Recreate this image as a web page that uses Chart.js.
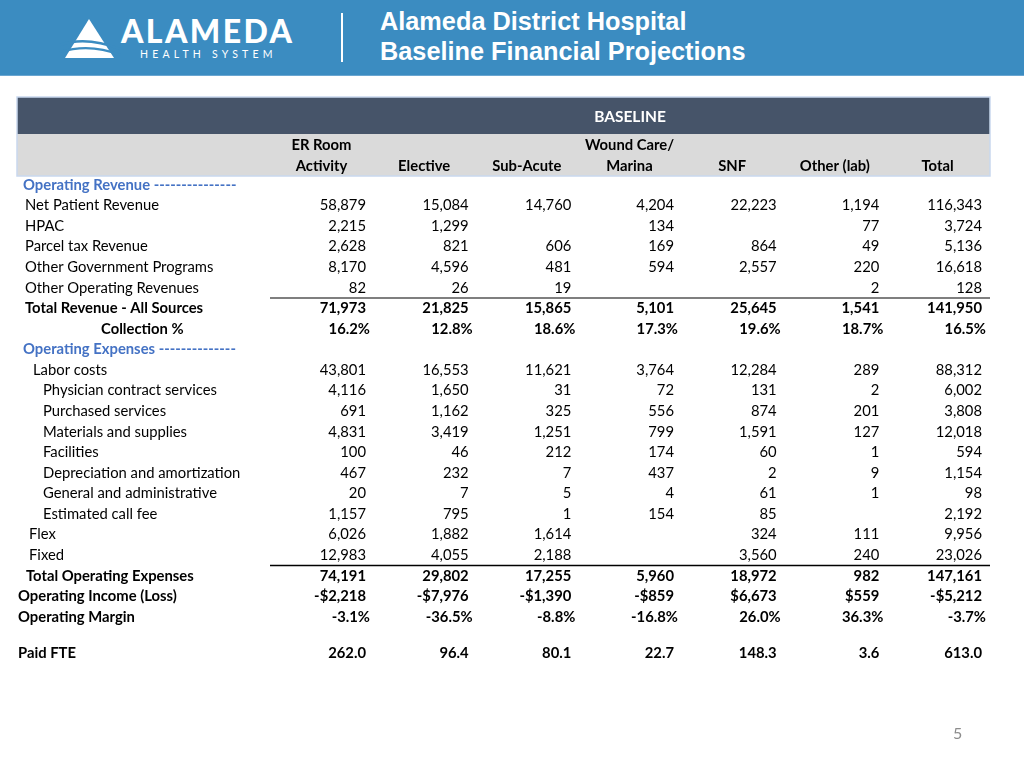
<!DOCTYPE html>
<html>
<head>
<meta charset="utf-8">
<title>Alameda District Hospital - Baseline Financial Projections</title>
<script src="https://cdn.jsdelivr.net/npm/chart.js@4.4.1/dist/chart.umd.min.js"></script>
<style>
  body { margin: 0; width: 1024px; height: 768px; overflow: hidden; background: #fff; position: relative; font-family: Lato, 'Open Sans', sans-serif; }
  #top-bar { position: absolute; left: 0; top: 0; width: 1024px; height: 76px; background: #3b8cc1; border-bottom: 1px solid #6aa6d1; box-sizing: border-box; }
  #logo-mark { position: absolute; left: 0; top: 0; }
  #logo-word { position: absolute; left: 121px; top: 11px; color: #fff; font: 900 32px Lato, sans-serif; letter-spacing: 2.4px; }
  #logo-sub { position: absolute; left: 140px; top: 48px; color: #fff; font: 400 10.5px Lato, sans-serif; letter-spacing: 4.2px; }
  #divider { position: absolute; left: 341px; top: 13px; width: 2px; height: 49px; background: #fff; }
  #title { position: absolute; left: 380px; top: 6px; color: #fff; font: bold 25.3px 'Liberation Sans', Arial, sans-serif; line-height: 30px; }
  #page-num { position: absolute; left: 953px; top: 723px; color: #8c8c8c; font: 16px Lato, sans-serif; }
  #table-chart { position: absolute; left: 0; top: 0; }
</style>
</head>
<body>
<div id="top-bar">
  <svg id="logo-mark" width="130" height="76">
    <polygon points="89,19 114,58 65,58" fill="#fff"/>
    <path d="M60,45 Q86,36 120,49" stroke="#3b8cc1" stroke-width="2.6" fill="none"/>
    <path d="M60,52 Q90,43 120,55" stroke="#3b8cc1" stroke-width="2.2" fill="none"/>
  </svg>
  <div id="logo-word">ALAMEDA</div>
  <div id="logo-sub">HEALTH SYSTEM</div>
  <div id="divider"></div>
  <div id="title">Alameda District Hospital<br>Baseline Financial Projections</div>
</div>
<canvas id="table-chart" width="1024" height="768"></canvas>
<div id="page-num">5</div>

<script>
// Row labels (index 22 is the blank spacer row)
const rowLabels = [
  'Operating Revenue ---------------',
  'Net Patient Revenue',
  'HPAC',
  'Parcel tax Revenue',
  'Other Government Programs',
  'Other Operating Revenues',
  'Total Revenue - All Sources',
  'Collection %',
  'Operating Expenses --------------',
  'Labor costs',
  'Physician contract services',
  'Purchased services',
  'Materials and supplies',
  'Facilities',
  'Depreciation and amortization',
  'General and administrative',
  'Estimated call fee',
  'Flex',
  'Fixed',
  'Total Operating Expenses',
  'Operating Income (Loss)',
  'Operating Margin',
  '',
  'Paid FTE'
];

// how each row's numbers are written
const rowFormats = [
  'head', 'num', 'num', 'num', 'num', 'num', 'num', 'pct',
  'head', 'num', 'num', 'num', 'num', 'num', 'num', 'num', 'num', 'num', 'num', 'num',
  'cur', 'pct', 'none', 'fte'
];

const columnTitles = [
  ['ER Room', 'Activity'],
  ['', 'Elective'],
  ['', 'Sub-Acute'],
  ['Wound Care/', 'Marina'],
  ['', 'SNF'],
  ['', 'Other (lab)'],
  ['', 'Total']
];

// values per column, in thousands (null = empty cell)
const erRoom    = [null, 58879, 2215, 2628, 8170, 82, 71973, 16.2, null, 43801, 4116, 691, 4831, 100, 467, 20, 1157, 6026, 12983, 74191, -2218, -3.1, null, 262.0];
const elective  = [null, 15084, 1299, 821, 4596, 26, 21825, 12.8, null, 16553, 1650, 1162, 3419, 46, 232, 7, 795, 1882, 4055, 29802, -7976, -36.5, null, 96.4];
const subAcute  = [null, 14760, null, 606, 481, 19, 15865, 18.6, null, 11621, 31, 325, 1251, 212, 7, 5, 1, 1614, 2188, 17255, -1390, -8.8, null, 80.1];
const woundCare = [null, 4204, 134, 169, 594, null, 5101, 17.3, null, 3764, 72, 556, 799, 174, 437, 4, 154, null, null, 5960, -859, -16.8, null, 22.7];
const snf       = [null, 22223, null, 864, 2557, null, 25645, 19.6, null, 12284, 131, 874, 1591, 60, 2, 61, 85, 324, 3560, 18972, 6673, 26.0, null, 148.3];
const otherLab  = [null, 1194, 77, 49, 220, 2, 1541, 18.7, null, 289, 2, 201, 127, 1, 9, 1, null, 111, 240, 982, 559, 36.3, null, 3.6];
const total     = [null, 116343, 3724, 5136, 16618, 128, 141950, 16.5, null, 88312, 6002, 3808, 12018, 594, 1154, 98, 2192, 9956, 23026, 147161, -5212, -3.7, null, 613.0];

const columns = [erRoom, elective, subAcute, woundCare, snf, otherLab, total];

// label styling per row
const boldRows = [0, 6, 7, 8, 19, 20, 21, 23];
const labelIndent = [23, 25, 25, 25, 25, 25, 25, 101, 23, 33, 43, 43, 43, 43, 43, 43, 43, 29, 29, 26, 18, 18, 18, 18];
const blue = '#4472c4';
const fontSize = '14.8px';
const spacerRow = 22;
const spacerHeight = 0.75; // the blank row is a bit shorter than the others

// row index -> position on the y scale
function rowPos(i) {
  return i > spacerRow ? i - (1 - spacerHeight) : i;
}

function formatValue(v, kind) {
  if (kind === 'pct') return v.toFixed(1) + '%';
  if (kind === 'fte') return v.toFixed(1);
  if (kind === 'cur') return (v < 0 ? '-' : '') + '$' + Math.abs(v).toLocaleString('en-US');
  return v.toLocaleString('en-US');
}

const tablePlugin = {
  id: 'tableText',
  beforeDatasetsDraw(chart) {
    const ctx = chart.ctx;
    const x = chart.scales.x;
    const y = chart.scales.y;
    const left = 17;
    const right = x.getPixelForValue(6) + 8;
    const dataLeft = x.getPixelForValue(0) - 96;

    ctx.save();
    // header block
    ctx.fillStyle = '#dadada';
    ctx.fillRect(left, 134, right - left, 42);
    ctx.fillStyle = '#465469';
    ctx.fillRect(left, 97, right - left, 37);
    ctx.strokeStyle = '#c9d8ee';
    ctx.lineWidth = 1.5;
    ctx.strokeRect(left, 97, right - left, 79);

    ctx.fillStyle = '#fff';
    ctx.font = 'bold 15.5px Lato, sans-serif';
    ctx.textAlign = 'center';
    ctx.textBaseline = 'middle';
    ctx.fillText('BASELINE', (dataLeft + right) / 2, 117);

    ctx.fillStyle = '#000';
    ctx.font = 'bold ' + fontSize + ' Lato, sans-serif';
    columnTitles.forEach((t, i) => {
      const cx = x.getPixelForValue(i) - 44.5;
      if (t[0]) ctx.fillText(t[0], cx, 145);
      ctx.fillText(t[1], cx, 166);
    });

    // row labels
    ctx.textAlign = 'left';
    rowLabels.forEach((label, i) => {
      if (!label) return;
      const bold = boldRows.includes(i);
      ctx.font = (bold ? 'bold ' : '') + fontSize + ' Lato, sans-serif';
      ctx.fillStyle = rowFormats[i] === 'head' ? blue : '#000';
      ctx.fillText(label, labelIndent[i], y.getPixelForValue(rowPos(i)));
    });

    // rules under the sub-totals
    ctx.strokeStyle = '#7f7f7f';
    ctx.lineWidth = 2;
    ctx.beginPath();
    ctx.moveTo(dataLeft, y.getPixelForValue(5.5));
    ctx.lineTo(right, y.getPixelForValue(5.5));
    ctx.stroke();
    ctx.strokeStyle = '#000';
    ctx.lineWidth = 1.5;
    ctx.beginPath();
    ctx.moveTo(dataLeft, y.getPixelForValue(18.5));
    ctx.lineTo(right, y.getPixelForValue(18.5));
    ctx.stroke();
    ctx.restore();
  },
  afterDatasetsDraw(chart) {
    const ctx = chart.ctx;
    ctx.save();
    ctx.textAlign = 'right';
    ctx.textBaseline = 'middle';
    ctx.fillStyle = '#000';
    chart.data.datasets.forEach((ds, di) => {
      const meta = chart.getDatasetMeta(di);
      meta.data.forEach((pt, j) => {
        const row = ds.data[j].row;
        const kind = rowFormats[row];
        ctx.font = (boldRows.includes(row) ? 'bold ' : '') + fontSize + ' Lato, sans-serif';
        const off = kind === 'pct' ? 4 : 0;
        ctx.fillText(formatValue(ds.data[j].v, kind), pt.x + off, pt.y);
      });
    });
    ctx.restore();
  }
};

const datasets = columns.map((values, c) => ({
  label: columnTitles[c].join(' ').trim(),
  data: values.map((v, i) => ({ x: c, y: rowPos(i), row: i, v: v })).filter(p => p.v !== null),
  pointRadius: 0,
  showLine: false
}));

new Chart(document.getElementById('table-chart').getContext('2d'), {
  type: 'scatter',
  data: { datasets: datasets },
  options: {
    responsive: false,
    animation: false,
    events: [],
    layout: {
      padding: { left: 366, right: 42, top: 185, bottom: 110 }
    },
    plugins: {
      legend: { display: false },
      tooltip: { enabled: false }
    },
    scales: {
      x: { type: 'linear', min: 0, max: 6, display: false },
      y: { type: 'linear', min: 0, max: 23, reverse: true, display: false }
    }
  },
  plugins: [tablePlugin]
});
</script>
</body>
</html>
